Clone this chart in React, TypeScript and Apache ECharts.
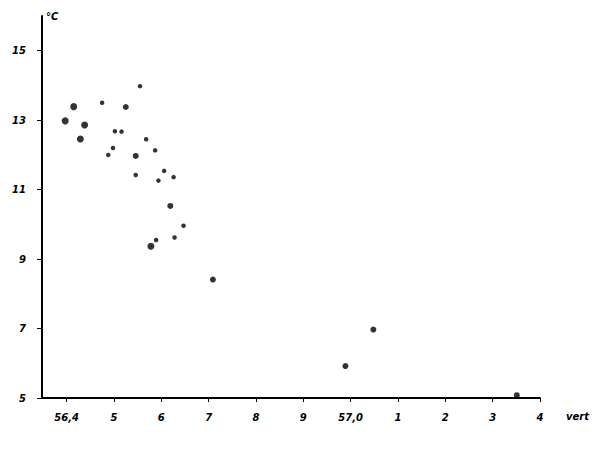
import React, { useEffect, useRef } from "react";
import * as echarts from "echarts";

const xTickValues = [56.4, 56.5, 56.6, 56.7, 56.8, 56.9, 57.0, 57.1, 57.2, 57.3, 57.4];
const xTickLabels = ["56,4", "5", "6", "7", "8", "9", "57,0", "1", "2", "3", "4"];
const yTickValues = [5, 7, 9, 11, 13, 15];

const bigPoints: [number, number][] = [
  [56.415, 13.39],
  [56.397, 12.98],
  [56.438, 12.86],
  [56.429, 12.46],
  [56.578, 9.37],
];
const mediumPoints: [number, number][] = [
  [56.525, 13.38],
  [56.546, 11.97],
  [56.619, 10.53],
  [56.709, 8.41],
  [57.048, 6.97],
  [56.989, 5.92],
  [57.351, 5.08],
];
const smallPoints: [number, number][] = [
  [56.555, 13.98],
  [56.475, 13.5],
  [56.502, 12.68],
  [56.516, 12.67],
  [56.568, 12.45],
  [56.587, 12.13],
  [56.498, 12.2],
  [56.488, 12.0],
  [56.606, 11.54],
  [56.626, 11.36],
  [56.546, 11.42],
  [56.594, 11.26],
  [56.647, 9.96],
  [56.628, 9.62],
  [56.589, 9.55],
];

const FONT = "DejaVu Sans";

export default function App() {
  const ref = useRef<HTMLDivElement>(null);
  useEffect(() => {
    if (!ref.current) return;
    const chart = echarts.init(ref.current, null, { renderer: "svg" });
    const labelMap: Record<string, string> = {};
    xTickValues.forEach((v, i) => {
      labelMap[v.toFixed(1)] = xTickLabels[i];
    });
    const sym = (data: [number, number][], size: number) => ({
      type: "scatter" as const,
      data,
      symbol: "circle",
      symbolSize: size,
      itemStyle: { color: "#000" },
      silent: true,
    });
    chart.setOption({
      animation: false,
      backgroundColor: "#fff",
      grid: { left: 42, right: 60, top: 16, bottom: 52 },
      xAxis: {
        type: "value",
        min: 56.348,
        max: 57.4,
        axisLine: { show: true, onZero: false, lineStyle: { color: "#000", width: 2 } },
        axisTick: {
          show: true,
          customValues: xTickValues,
          length: 4,
          inside: false,
          lineStyle: { color: "#000", width: 1 },
        },
        axisLabel: {
          customValues: xTickValues,
          formatter: (v: number) => labelMap[v.toFixed(1)] ?? "",
          color: "#000",
          fontFamily: FONT,
          fontStyle: "italic",
          fontWeight: "bold",
          fontSize: 10,
          margin: 14,
        },
        splitLine: { show: false },
      },
      yAxis: {
        type: "value",
        min: 5,
        max: 16,
        axisLine: { show: true, onZero: false, lineStyle: { color: "#000", width: 2 } },
        axisTick: {
          show: true,
          customValues: yTickValues,
          length: 5,
          lineStyle: { color: "#000", width: 1 },
        },
        minorTick: { show: true, splitNumber: 2, length: 3, lineStyle: { color: "#000" } },
        axisLabel: {
          customValues: yTickValues,
          color: "#000",
          fontFamily: FONT,
          fontStyle: "italic",
          fontWeight: "bold",
          fontSize: 10,
          margin: 16,
        },
        splitLine: { show: false },
      },
      graphic: [
        {
          type: "text",
          left: 46,
          top: 11,
          style: {
            text: "°C",
            fill: "#000",
            font: `italic bold 10px "${FONT}"`,
          },
        },
        {
          type: "text",
          left: 566,
          top: 411,
          style: {
            text: "vert",
            fill: "#000",
            font: `italic bold 10px "${FONT}"`,
          },
        },
      ],
      series: [sym(bigPoints, 7), sym(mediumPoints, 6), sym(smallPoints, 4.5)],
    });
    return () => chart.dispose();
  }, []);
  return <div ref={ref} style={{ width: 600, height: 450, position: "absolute", left: 0, top: 0 }} />;
}
